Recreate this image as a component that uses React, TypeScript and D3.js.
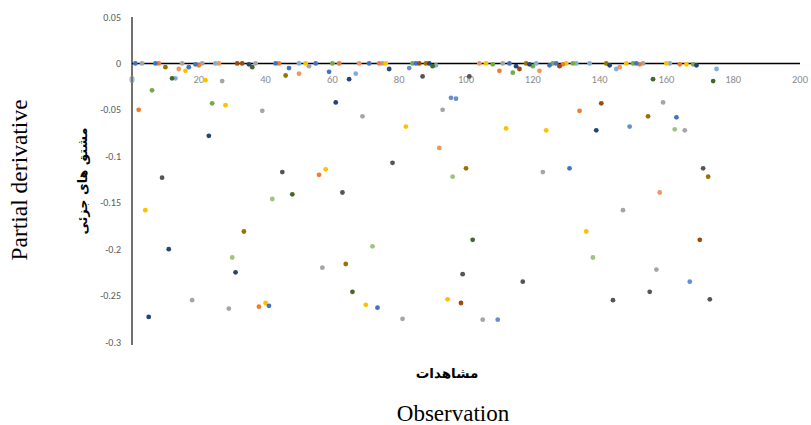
import React from "react";
import * as d3 from "d3";

const xTicks = [0, 20, 40, 60, 80, 100, 120, 140, 160, 180, 200];
const yTicks = [0.05, 0, -0.05, -0.1, -0.15, -0.2, -0.25, -0.3];

const blueObs = [1, 7, 17, 19, 43, 47, 55, 59, 71, 85, 113, 125, 127, 151, 163, 41, 73.5, 131];
const blueVal = [0, 0, -0.004, -0.001, 0, -0.005, 0, -0.009, 0, 0, 0, -0.002, 0, 0, -0.058, -0.261, -0.263, -0.113];

const navyObs = [23, 5, 11, 61, 65, 77, 89, 115, 119, 143, 139, 169, 35, 31];
const navyVal = [-0.078, -0.273, -0.2, -0.042, -0.017, -0.006, 0, -0.003, -0.001, -0.002, -0.072, -0.002, -0.001, -0.225];

const orangeObs = [8, 2, 20, 44, 62, 74, 110, 129, 152, 164, 56, 38, 134];
const orangeVal = [0, -0.05, -0.002, 0, 0, 0, -0.008, -0.001, -0.001, -0.001, -0.12, -0.262, -0.051];

const lightOrangeObs = [14, 26, 50, 68, 104, 122, 146, 92, 158];
const lightOrangeVal = [-0.006, 0, -0.011, 0, 0, -0.008, -0.004, -0.091, -0.139];

const grayObs = [3, 15, 21, 27, 37, 39, 53, 69, 75, 93, 111, 153, 159, 165.5, 123, 18, 29, 57, 81, 105, 157, 147];
const grayVal = [0, 0, 0, -0.019, 0, -0.051, -0.003, -0.057, 0, -0.05, 0, 0, -0.042, -0.072, -0.117, -0.255, -0.264, -0.22, -0.275, -0.276, -0.222, -0.158];

const yellowObs = [16, 22, 28, 52, 76, 106, 130, 148, 166, 4, 58, 82, 112, 124, 40, 70, 94.5, 136, 160];
const yellowVal = [-0.008, -0.018, -0.045, 0, 0, 0, 0, 0, -0.001, -0.158, -0.114, -0.068, -0.07, -0.072, -0.258, -0.26, -0.254, -0.181, 0];

const lightBlueObs = [13, 25, 50, 67, 91, 121, 133, 137, 145, 161, 175];
const lightBlueVal = [-0.016, 0, 0, -0.011, -0.002, 0, 0, 0, -0.006, 0, -0.006];

const greenObs = [6, 24, 60, 84, 108, 114, 120, 126, 132, 150, 168];
const greenVal = [-0.029, -0.043, 0, 0, -0.001, -0.01, -0.003, 0, 0, 0, -0.001];

const lightGreenObs = [42, 96, 30, 72, 138, 162.5];
const lightGreenVal = [-0.146, -0.122, -0.209, -0.197, -0.209, -0.071];

const brownObs = [33, 86, 116, 128, 140.5, 98.5, 170, 31.5];
const brownVal = [0, 0, -0.006, -0.003, -0.043, -0.258, -0.19, 0];

const darkGrayObs = [9, 45, 63, 78, 87, 99, 117, 144, 155, 171, 173, 101];
const darkGrayVal = [-0.123, -0.117, -0.139, -0.107, -0.014, -0.227, -0.235, -0.255, -0.246, -0.113, -0.254, -0.014];

const oliveObs = [10, 46, 88, 118, 142, 100, 154.5, 172.5, 33.5, 64];
const oliveVal = [-0.004, -0.013, 0, 0, 0, -0.113, -0.057, -0.122, -0.181, -0.216];

const darkGreenObs = [12, 36, 90, 156, 174, 48, 66, 102];
const darkGreenVal = [-0.016, -0.004, -0.003, -0.017, -0.019, -0.141, -0.246, -0.19];

const periwinkleObs = [83, 95.5, 97, 149, 167, 109.5];
const periwinkleVal = [-0.005, -0.037, -0.038, -0.068, -0.235, -0.276];

const series = [
  { obs: lightGreenObs, val: lightGreenVal, color: "#9cc47f" },
  { obs: grayObs, val: grayVal, color: "#a5a5a5" },
  { obs: lightBlueObs, val: lightBlueVal, color: "#7eaee0" },
  { obs: lightOrangeObs, val: lightOrangeVal, color: "#f1975a" },
  { obs: yellowObs, val: yellowVal, color: "#ffc000" },
  { obs: greenObs, val: greenVal, color: "#70ad47" },
  { obs: orangeObs, val: orangeVal, color: "#ed7d31" },
  { obs: blueObs, val: blueVal, color: "#4472c4" },
  { obs: periwinkleObs, val: periwinkleVal, color: "#698ed0" },
  { obs: oliveObs, val: oliveVal, color: "#997300" },
  { obs: brownObs, val: brownVal, color: "#9e480e" },
  { obs: darkGrayObs, val: darkGrayVal, color: "#555555" },
  { obs: darkGreenObs, val: darkGreenVal, color: "#43682b" },
  { obs: navyObs, val: navyVal, color: "#264478" },
];

export default function App() {
  const W = 811;
  const H = 425;
  const x = d3.scaleLinear().domain([0, 200]).range([132, 800]);
  const y = d3.scaleLinear().domain([-0.3, 0.05]).range([342, 17]);
  const fmt = (v: number) => (v === 0 ? "0" : String(v));

  return (
    <svg
      width={W}
      height={H}
      style={{ position: "absolute", left: 0, top: 0, background: "#fff" }}
    >
      {/* y axis */}
      <line x1={x(0)} x2={x(0)} y1={y(0.05)} y2={y(-0.3) + 3} stroke="#404040" strokeWidth={1.5} />
      {/* x axis at zero */}
      <line x1={x(0)} x2={x(200)} y1={y(0)} y2={y(0)} stroke="#000" strokeWidth={1.5} />

      {yTicks.map((t) => (
        <text
          key={"y" + t}
          x={121}
          y={y(t)}
          dy="0.35em"
          textAnchor="end"
          fontFamily="Carlito, 'Liberation Sans', Arial, sans-serif"
          fontSize={10}
          fill="#595959"
        >
          {fmt(t)}
        </text>
      ))}
      {xTicks.map((t) => (
        <text
          key={"x" + t}
          x={x(t)}
          y={y(0) + 20}
          textAnchor="middle"
          fontFamily="Carlito, 'Liberation Sans', Arial, sans-serif"
          fontSize={10.5}
          fill="#8c8c8c"
        >
          {t}
        </text>
      ))}

      {series.map((s, si) =>
        s.obs.map((o, i) => (
          <circle key={si + "-" + i} cx={x(o)} cy={y(s.val[i])} r={2.4} fill={s.color} />
        ))
      )}

      <text
        transform="translate(27,180) rotate(-90)"
        textAnchor="middle"
        fontFamily="'Liberation Serif', 'Times New Roman', serif"
        fontSize={23.5}
        fill="#000"
      >
        Partial derivative
      </text>
      <text
        transform="translate(87,181) rotate(-90)"
        textAnchor="middle"
        fontFamily="'DejaVu Sans', 'Noto Sans', sans-serif"
        fontSize={12.8}
        fontWeight="bold"
        fill="#000"
        direction="rtl"
      >
        مشتق های جزئی
      </text>
      <text
        x={447}
        y={378}
        textAnchor="middle"
        fontFamily="'DejaVu Sans', 'Noto Sans', sans-serif"
        fontSize={13.5}
        fontWeight="bold"
        fill="#000"
        direction="rtl"
      >
        مشاهدات
      </text>
      <text
        x={453}
        y={421}
        textAnchor="middle"
        fontFamily="'Liberation Serif', 'Times New Roman', serif"
        fontSize={23}
        fill="#000"
      >
        Observation
      </text>
    </svg>
  );
}
